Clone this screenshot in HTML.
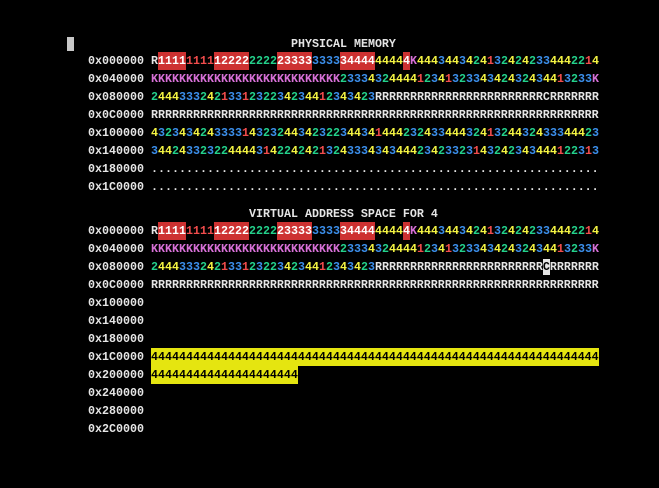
<!DOCTYPE html>
<html><head><style>
body{margin:0;background:#000;width:659px;height:488px;overflow:hidden;position:relative;font-family:"Liberation Mono",monospace;font-size:11.67px;color:#e5e5e5;font-weight:bold}
.l{position:absolute;white-space:pre;line-height:18px;height:18px}
.c1{color:#f14c4c}.c2{color:#23d18b}.c3{color:#3b8eea}.c4{color:#f5f543}.cK{color:#d670d6}
.h,.y,.cur{display:inline-block;height:18px;line-height:18px;vertical-align:top}
.h{background:#cd3131;color:#fff}
.cur{background:#e5e5e5;color:#000;height:16px;margin-top:1px;line-height:16px}
.y{background:#e5e510;color:#000}
</style></head><body>
<div style="position:absolute;left:67px;top:37px;width:7px;height:14px;background:#c8c8c8"></div>
<div id="root"></div>
<script>
var W=7,X0=151,LX=88;
function pad(s,ch){while(s.length<64)s+=ch||s[s.length-1];return s.slice(0,64);}
var r0="R"+"1111"+"1111"+"12222"+"2222"+"23333"+"3333"+"34444"+"4444"+"4"+"K"+"44434434241324242334442214";
var r1=pad("KKKKKKKKKKKKKKKKKKKKKKKKKKK233343244441234132334342432434413233K","K");
var r2=pad("24443332421331232234234412343423RRRRRRRRRRRRRRRRRRRRRRRRCRRRRRRR","R");
var r3="R".repeat(64);
var r4=pad("4323434243333143232443423223443414442324334443241324432433344423");
var r5=pad("3442433232244443142242421324333434344423423323143242343444122313");
var dots=".".repeat(64);
var hl0=[[1,4],[9,13],[18,22],[27,31],[36,36]];
var html="";
function line(y,label,s,opts){
  opts=opts||{};
  html+='<div class="l" style="left:'+LX+'px;top:'+(y-9)+'px">'+label+'</div>';
  if(!s)return;
  var o="";
  if(opts.y){html+='<div class="l" style="left:'+X0+'px;top:'+(y-9)+'px"><span class="y">'+s+'</span></div>';return;}
  var i=0;
  while(i<s.length){
    var inH=false,end=i;
    if(opts.hl){for(var k=0;k<hl0.length;k++)if(i==hl0[k][0]){inH=true;end=hl0[k][1];}}
    if(inH){
      var t="";for(var j=i;j<=end;j++)t+=s[j];
      o+='<span class="h">'+t+'</span>';i=end+1;continue;
    }
    var c=s[i],cls="";
    if("1234K".indexOf(c)>=0)cls="c"+c;
    if(opts.cur===i)cls="cur";
    o+=cls?'<span class="'+cls+'">'+c+'</span>':c;
    i++;
  }
  html+='<div class="l" style="left:'+X0+'px;top:'+(y-9)+'px">'+o+'</div>';
}
html+='<div class="l" style="left:291px;top:35px">PHYSICAL MEMORY</div>';
var ys=[61,79,97,115,133,151,169,187];
var labs=["0x000000","0x040000","0x080000","0x0C0000","0x100000","0x140000","0x180000","0x1C0000"];
var rows=[r0,r1,r2,r3,r4,r5,dots,dots];
for(var i=0;i<8;i++)line(ys[i],labs[i],rows[i],{hl:i==0});
html+='<div class="l" style="left:249px;top:205px">VIRTUAL ADDRESS SPACE FOR 4</div>';
var labs2=["0x000000","0x040000","0x080000","0x0C0000","0x100000","0x140000","0x180000","0x1C0000","0x200000","0x240000","0x280000","0x2C0000"];
for(var i=0;i<12;i++){
  var y=231+18*i,s=null,o={};
  if(i==0){s=r0;o.hl=true}
  if(i==1)s=r1;
  if(i==2){s=r2;o.cur=56}
  if(i==3)s=r3;
  if(i==7){s="4".repeat(64);o.y=true}
  if(i==8){s="4".repeat(21);o.y=true}
  line(y,labs2[i],s,o);
}
document.getElementById("root").innerHTML=html;
</script>
</body></html>
